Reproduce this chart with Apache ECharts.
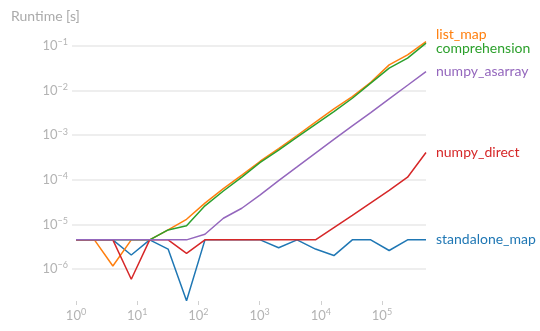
<!DOCTYPE html>
<html><head><meta charset="utf-8">
<script src="https://cdn.jsdelivr.net/npm/echarts@6/dist/echarts.min.js"></script>
<style>html,body{margin:0;padding:0;background:#fff}#c{width:540px;height:331px}</style>
</head><body><div id="c"></div>
<script>
const sizes = [1, 2, 4, 8, 16, 32, 64, 128, 256, 512, 1024, 2048, 4096, 8192, 16384, 32768, 65536, 131072, 262144, 524288];
const standaloneMap = [4.5e-6, 4.5e-6, 4.5e-6, 2.06e-6, 4.5e-6, 2.8e-6, 1.95e-7, 4.5e-6, 4.5e-6, 4.5e-6, 4.5e-6, 3.0e-6, 4.5e-6, 2.8e-6, 2.0e-6, 4.5e-6, 4.5e-6, 2.6e-6, 4.5e-6, 4.5e-6];
const listMap = [4.5e-6, 4.5e-6, 1.17e-6, 4.5e-6, 4.5e-6, 7.5e-6, 1.3e-5, 3.0e-5, 6.3e-5, 1.27e-4, 2.6e-4, 5.0e-4, 9.8e-4, 1.95e-3, 3.87e-3, 7.3e-3, 1.53e-2, 3.75e-2, 6.3e-2, 0.125];
const comprehension = [4.5e-6, 4.5e-6, 4.5e-6, 4.5e-6, 4.5e-6, 7.5e-6, 9.3e-6, 2.6e-5, 5.6e-5, 1.15e-4, 2.45e-4, 4.6e-4, 9.0e-4, 1.75e-3, 3.37e-3, 6.7e-3, 1.46e-2, 3.16e-2, 5.3e-2, 0.115];
const numpyDirect = [4.5e-6, 4.5e-6, 4.5e-6, 5.9e-7, 4.5e-6, 4.5e-6, 2.24e-6, 4.5e-6, 4.5e-6, 4.5e-6, 4.5e-6, 4.5e-6, 4.5e-6, 4.5e-6, 8.5e-6, 1.6e-5, 3.05e-5, 5.75e-5, 1.14e-4, 4.07e-4];
const numpyAsarray = [4.5e-6, 4.5e-6, 4.5e-6, 4.5e-6, 4.5e-6, 4.5e-6, 4.5e-6, 6.0e-6, 1.37e-5, 2.3e-5, 4.6e-5, 9.6e-5, 1.94e-4, 3.96e-4, 8.0e-4, 1.61e-3, 3.2e-3, 6.5e-3, 1.31e-2, 2.66e-2];
const xTicks = [1, 10, 100, 1000, 10000, 100000];
const yTicks = [1e-6, 1e-5, 1e-4, 1e-3, 1e-2, 1e-1];

const FONT = 'Lato';
const GRAY = '#b3b3b3';
function powLabel(v) {
  const e = Math.round(Math.log10(v));
  return '{b|10}{s|' + (e < 0 ? '\u2212' + (-e) : String(e)) + '}';
}
const rich = {
  b: { fontSize: 13, lineHeight: 16, color: GRAY, fontFamily: FONT },
  s: { fontSize: 9, lineHeight: 9, color: GRAY, fontFamily: FONT, verticalAlign: 'top' }
};
function mk(name, data, color, dy) {
  return {
    name: name, type: 'line', showSymbol: false, symbol: 'none',
    data: sizes.map((n, i) => [n, data[i]]),
    lineStyle: { color: color, width: 1.5 },
    itemStyle: { color: color },
    endLabel: { show: true, formatter: '{a}', color: color, fontSize: 14, fontFamily: FONT, distance: 10, offset: [0, dy] }
  };
}
const chart = echarts.init(document.getElementById('c'), null, { renderer: 'canvas' });
chart.setOption({
  animation: false,
  backgroundColor: '#fff',
  title: { text: 'Runtime [s]', left: 6, top: 4, textStyle: { color: '#aaaaaa', fontSize: 14, fontWeight: 'normal', fontFamily: FONT } },
  grid: { left: 72, right: 114, top: 38, bottom: 30 },
  xAxis: {
    type: 'log', logBase: 10, min: 0.86, max: 524288,
    axisLine: { show: false },
    axisTick: { show: true, customValues: xTicks, length: 4, lineStyle: { color: '#d0d0d0' } },
    axisLabel: { customValues: xTicks, formatter: powLabel, rich: rich, margin: 7 },
    splitLine: { show: false }
  },
  yAxis: {
    type: 'log', logBase: 10, min: 1.92e-7, max: 0.15,
    axisLine: { show: false },
    axisTick: { show: false },
    axisLabel: { customValues: yTicks, formatter: powLabel, rich: rich, margin: 4 },
    splitLine: { show: true, showMinLine: false, showMaxLine: false, lineStyle: { color: '#e9e9e9', width: 1.5 } }
  },
  series: [
    mk('standalone_map', standaloneMap, '#1f77b4', 0),
    mk('list_map', listMap, '#ff7f0e', -7),
    mk('comprehension', comprehension, '#2ca02c', 5),
    mk('numpy_direct', numpyDirect, '#d62728', 0),
    mk('numpy_asarray', numpyAsarray, '#9467bd', 0)
  ]
});
</script>
</body></html>
